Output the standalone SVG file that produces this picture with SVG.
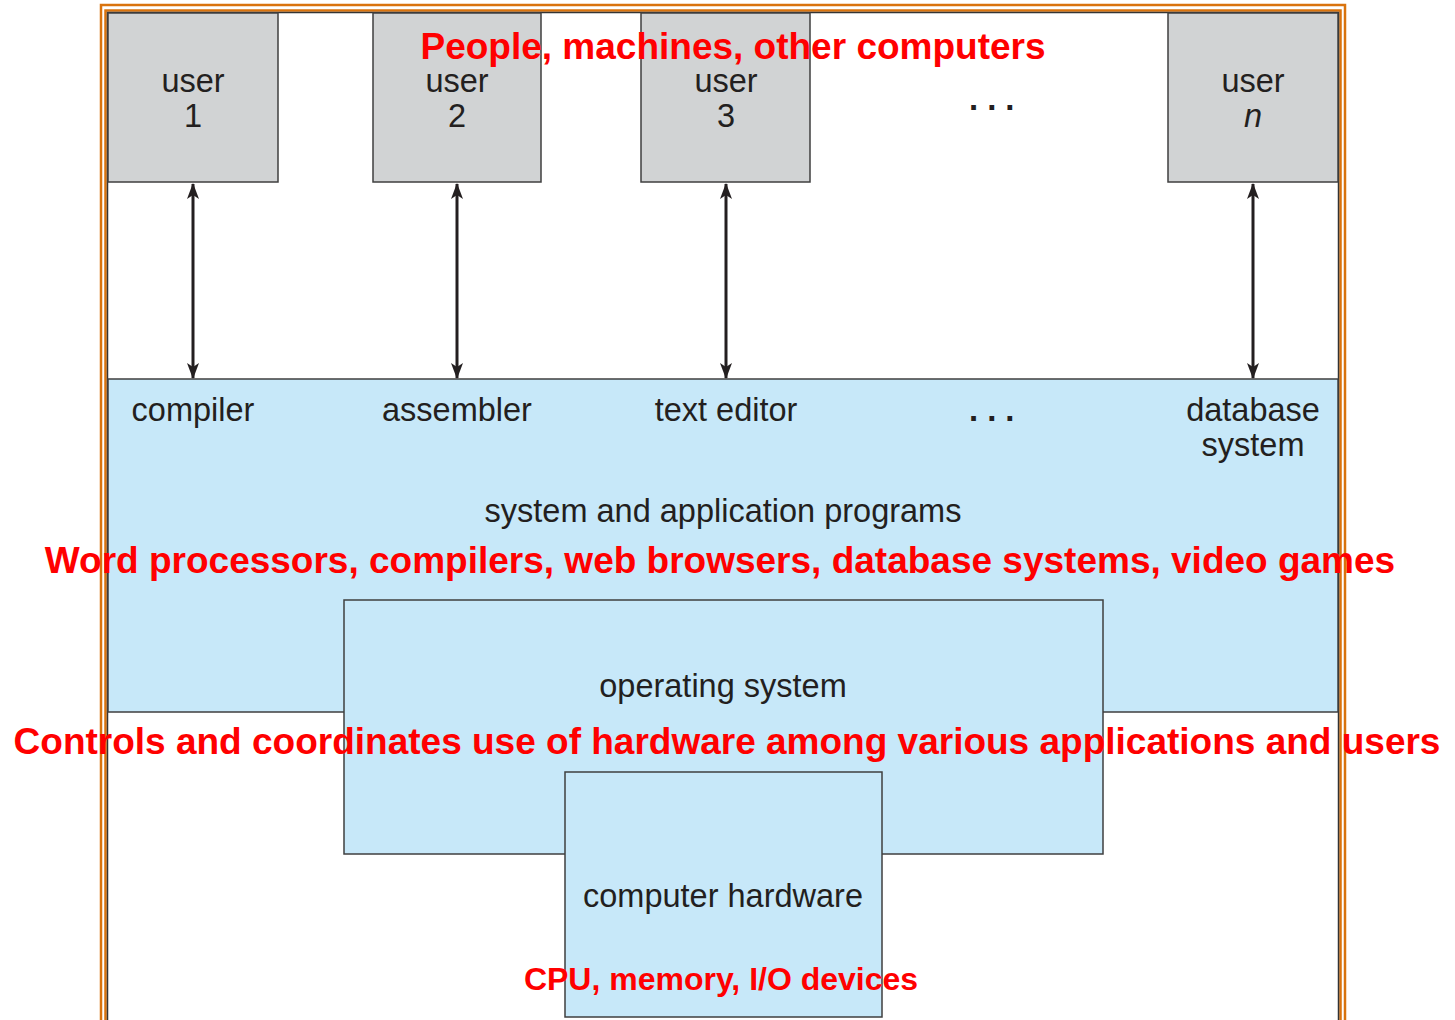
<svg xmlns="http://www.w3.org/2000/svg" width="1455" height="1020" viewBox="0 0 1455 1020">
<style>
.frame{fill:none;stroke:#d9730d;stroke-width:2.5}
.box{stroke:#3f3f3f;stroke-width:1.5}
.user{fill:#d1d3d4}
.blue{fill:#c7e8f9}
.lbl{font-family:"Liberation Sans",Arial,sans-serif;font-size:32.5px;fill:#231f20;text-anchor:middle}
.dots{font-family:"Liberation Sans",Arial,sans-serif;font-size:33px;font-weight:bold;fill:#231f20;letter-spacing:9px}
.red{font-family:"Liberation Sans",Arial,sans-serif;font-size:37px;font-weight:bold;fill:#ff0000;text-anchor:middle}
.conn{stroke:#231f20;stroke-width:3;fill:none;marker-start:url(#ah);marker-end:url(#ah)}
</style>
<defs>
<marker id="ah" viewBox="0 0 16 12" refX="15" refY="6" markerWidth="16" markerHeight="12" markerUnits="userSpaceOnUse" orient="auto-start-reverse">
<path d="M0,0 L16,6 L0,12 L4,6 Z" fill="#231f20"/>
</marker>
</defs>
<rect width="1455" height="1020" fill="#ffffff"/>
<g id="frame">
<rect class="frame" x="101" y="5" width="1244" height="1030"/>
<rect class="frame" x="105.5" y="10.5" width="1235" height="1030"/>
<rect x="107.5" y="12.5" width="1231" height="1030" fill="none" stroke="#333333" stroke-width="1.5"/>
</g>
<g id="apps">
<rect class="box blue" x="108" y="379" width="1230" height="333"/>
<text class="lbl" x="193" y="421">compiler</text>
<text class="lbl" x="457" y="421">assembler</text>
<text class="lbl" x="726" y="421">text editor</text>
<text class="lbl" x="1253" y="421">database</text>
<text class="lbl" x="1253" y="456">system</text>
<text class="lbl" x="723" y="522">system and application programs</text>
<text class="dots" x="969" y="421">...</text>
</g>
<g id="os">
<rect class="box blue" x="344" y="600" width="759" height="254"/>
<text class="lbl" x="723" y="697">operating system</text>
</g>
<g id="hardware">
<rect class="box blue" x="565" y="772" width="317" height="245"/>
<text class="lbl" x="723" y="907">computer hardware</text>
</g>
<g id="user1">
<rect class="box user" x="108" y="13" width="170" height="169"/>
<text class="lbl" x="193" y="92">user</text>
<text class="lbl" x="193" y="127">1</text>
</g>
<g id="user2">
<rect class="box user" x="373" y="13" width="168" height="169"/>
<text class="lbl" x="457" y="92">user</text>
<text class="lbl" x="457" y="127">2</text>
</g>
<g id="user3">
<rect class="box user" x="641" y="13" width="169" height="169"/>
<text class="lbl" x="726" y="92">user</text>
<text class="lbl" x="726" y="127">3</text>
</g>
<g id="usern">
<rect class="box user" x="1168" y="13" width="170" height="169"/>
<text class="lbl" x="1253" y="92">user</text>
<text class="lbl" x="1253" y="127" font-style="italic">n</text>
</g>
<g id="dots-top">
<text class="dots" x="969" y="110">...</text>
</g>
<g id="connectors">
<line class="conn" x1="193" y1="184" x2="193" y2="378"/>
<line class="conn" x1="457" y1="184" x2="457" y2="378"/>
<line class="conn" x1="726" y1="184" x2="726" y2="378"/>
<line class="conn" x1="1253" y1="184" x2="1253" y2="378"/>
</g>
<g id="annotations">
<text class="red" x="733" y="59">People, machines, other computers</text>
<text class="red" x="720" y="573">Word processors, compilers, web browsers, database systems, video games</text>
<text class="red" x="727" y="754">Controls and coordinates use of hardware among various applications and users</text>
<text class="red" x="721" y="990" style="font-size:32px">CPU, memory, I/O devices</text>
</g>
</svg>
